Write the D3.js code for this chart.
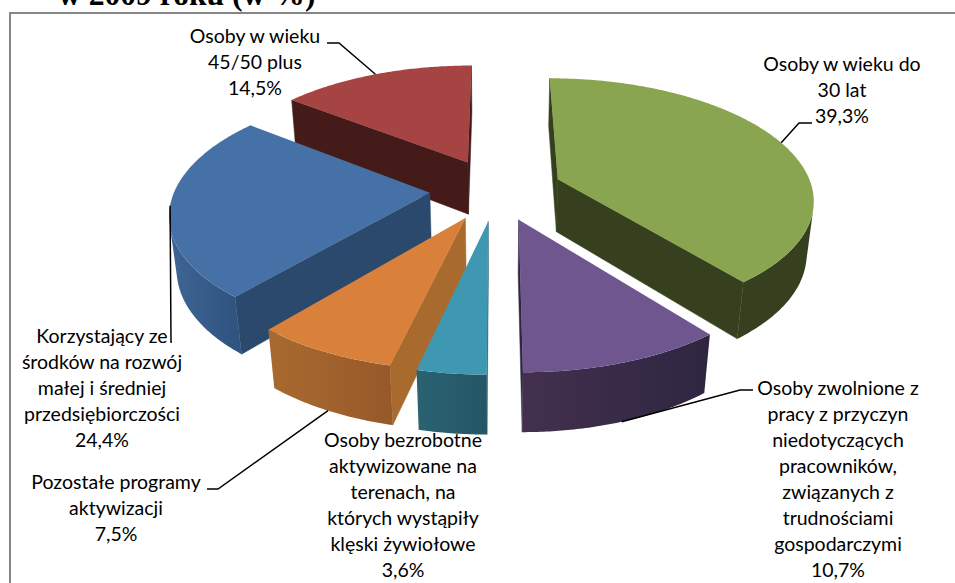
<!DOCTYPE html>
<html>
<head>
<meta charset="utf-8">
<script src="https://cdn.jsdelivr.net/npm/d3@7"></script>
<style>
html,body{margin:0;padding:0;background:#fff;overflow:hidden}
svg{display:block}
</style>
</head>
<body>
<svg id="chart" width="955" height="583"></svg>
<script>
// --- data ---
const categories = [
  "Osoby w wieku do 30 lat",
  "Osoby zwolnione z pracy z przyczyn niedotyczących pracowników, związanych z trudnościami gospodarczymi",
  "Osoby bezrobotne aktywizowane na terenach, na których wystąpiły klęski żywiołowe",
  "Pozostałe programy aktywizacji",
  "Korzystający ze środków na rozwój małej i średniej przedsiębiorczości",
  "Osoby w wieku 45/50 plus"
];
const values = [39.3, 10.7, 3.6, 7.5, 24.4, 14.5];
const labelLines = [
  ["Osoby w wieku do", "30 lat"],
  ["Osoby zwolnione z", "pracy z przyczyn", "niedotyczących", "pracowników,", "związanych z", "trudnościami", "gospodarczymi"],
  ["Osoby bezrobotne", "aktywizowane na", "terenach, na", "których wystąpiły", "klęski żywiołowe"],
  ["Pozostałe programy", "aktywizacji"],
  ["Korzystający ze", "środków na rozwój", "małej i średniej", "przedsiębiorczości"],
  ["Osoby w wieku", "45/50 plus"]
];
const titleText = "w 2009 roku (w %)";

// --- styles ---
const topColors  = ["#8aa54f", "#70568f", "#3f98b1", "#d9813b", "#4571a6", "#a54442"];
const cutColors  = ["#37401e", "#2e2640", "#2a6272", "#a96a2e", "#2b486d", "#441b18"];
const wallFrom   = ["#37401e", "#2e2640", "#245666", "#98592a", "#2f5480", "#441b18"];
const wallTo     = ["#37401e", "#43304f", "#2a6272", "#a96a30", "#3f6595", "#441b18"];

// --- layout of labels: text centre, first baseline, leader start/knee, anchor face ---
const labelLayout = [
  {cx:842, y:71,  leader:[[812,123],[799,123]], face:"top"},
  {cx:838, y:395, leader:[[753,390],[740,390]], face:"bottom"},
  {cx:403, y:447, leader:null},
  {cx:116, y:489, leader:[[207,489],[218,489]], face:"bottom"},
  {cx:102, y:343, leader:[[172,342],[171,342]], face:"top"},
  {cx:255, y:43,  leader:[[327,43],[339,43]], face:"top"}
];
const lineStep = 26;

// --- perspective projection of the pie ---
const cam = {xv:496, yv:-597, C:1682, E:5190, D:6.6, H:475, a:0.15, explode:0.26};
function project(X, Y, bottom) {
  const u = cam.D - Y + (bottom ? cam.a : 0);
  return [cam.xv + cam.C * X / u, cam.yv + (cam.E + (bottom ? cam.H : 0)) / u];
}

const arcs = d3.pie().sort(null).value(d => d).startAngle(0).endAngle(2 * Math.PI)(values);
const drawOrder = [5, 0, 4, 3, 2, 1];

const svg = d3.select("#chart");
const defs = svg.append("defs");
const line = d3.line();
const closed = pts => line(pts) + "Z";
const area2 = pts => d3.polygonArea(pts);

function sliceGeom(d) {
  const mid = (d.startAngle + d.endAngle) / 2;
  const ox = cam.explode * Math.sin(mid), oy = -cam.explode * Math.cos(mid);
  const rim = t => [ox + Math.sin(t), oy - Math.cos(t)];
  return {mid, apex:[ox, oy], rim};
}

const gPie = svg.append("g");
drawOrder.forEach(i => {
  const d = arcs[i], g = sliceGeom(d);
  const sl = gPie.append("g").attr("class", "slice");
  const n = Math.max(8, Math.round((d.endAngle - d.startAngle) / 0.01));
  const thetas = d3.range(n + 1).map(k => d.startAngle + (d.endAngle - d.startAngle) * k / n);

  // straight cut faces, only when they face the viewer
  [[d.startAngle, 1], [d.endAngle, -1]].forEach(([t, sign]) => {
    const r = g.rim(t);
    const q = [project(...g.apex, false), project(...r, false), project(...r, true), project(...g.apex, true)];
    if (sign * area2(q) > 0) {
      sl.append("path").attr("d", closed(q)).attr("fill", cutColors[i])
        .attr("stroke", cutColors[i]).attr("stroke-width", 0.5);
    }
  });
  // outer wall: the run of rim angles whose strip faces the viewer
  const visible = d3.pairs(thetas).filter(([t0, t1]) => {
    const a = g.rim(t0), b = g.rim(t1);
    return area2([project(...a, false), project(...b, false), project(...b, true), project(...a, true)]) > 0;
  });
  if (visible.length) {
    const ts = [visible[0][0]].concat(visible.map(p => p[1]));
    const topRim = ts.map(t => project(...g.rim(t), false));
    const botRim = ts.map(t => project(...g.rim(t), true)).reverse();
    const gid = "wall" + i;
    const grad = defs.append("linearGradient").attr("id", gid).attr("gradientUnits", "userSpaceOnUse")
      .attr("x1", topRim[0][0]).attr("x2", topRim[topRim.length - 1][0]).attr("y1", 0).attr("y2", 0);
    grad.append("stop").attr("offset", 0).attr("stop-color", wallFrom[i]);
    grad.append("stop").attr("offset", 1).attr("stop-color", wallTo[i]);
    sl.append("path").attr("d", closed(topRim.concat(botRim))).attr("fill", `url(#${gid})`);
  }
  // top face
  const topPts = [project(...g.apex, false)].concat(thetas.map(t => project(...g.rim(t), false)));
  sl.append("path").attr("d", closed(topPts)).attr("fill", topColors[i]);
});

// frame
svg.append("path").attr("d", "M10,583V13H955").attr("fill", "none").attr("stroke", "#868686").attr("stroke-width", 2);

// clipped title above the frame
svg.append("clipPath").attr("id", "titleClip").append("rect").attr("x", 0).attr("y", 0).attr("width", 955).attr("height", 12);
svg.append("text").attr("x", 58).attr("y", 5).attr("clip-path", "url(#titleClip)")
  .attr("font-family", "'Liberation Serif'").attr("font-weight", "bold").attr("font-size", 31.6)
  .attr("fill", "#000").text(titleText);

// leaders
labelLayout.forEach((l, i) => {
  if (!l.leader) return;
  const g = sliceGeom(arcs[i]);
  const end = project(...g.rim(g.mid), l.face === "bottom");
  svg.append("path").attr("d", line(l.leader.concat([end])))
    .attr("fill", "none").attr("stroke", "#000").attr("stroke-width", 1.5);
});

// labels
const fmt = v => v.toFixed(1).replace(".", ",") + "%";
labelLayout.forEach((l, i) => {
  const t = svg.append("text").attr("text-anchor", "middle")
    .attr("font-family", "Lato").attr("font-size", 19.5).attr("fill", "#000");
  labelLines[i].concat([fmt(values[i])]).forEach((s, k) => {
    t.append("tspan").attr("x", l.cx).attr("y", l.y + k * lineStep).text(s);
  });
});
</script>
</body>
</html>
